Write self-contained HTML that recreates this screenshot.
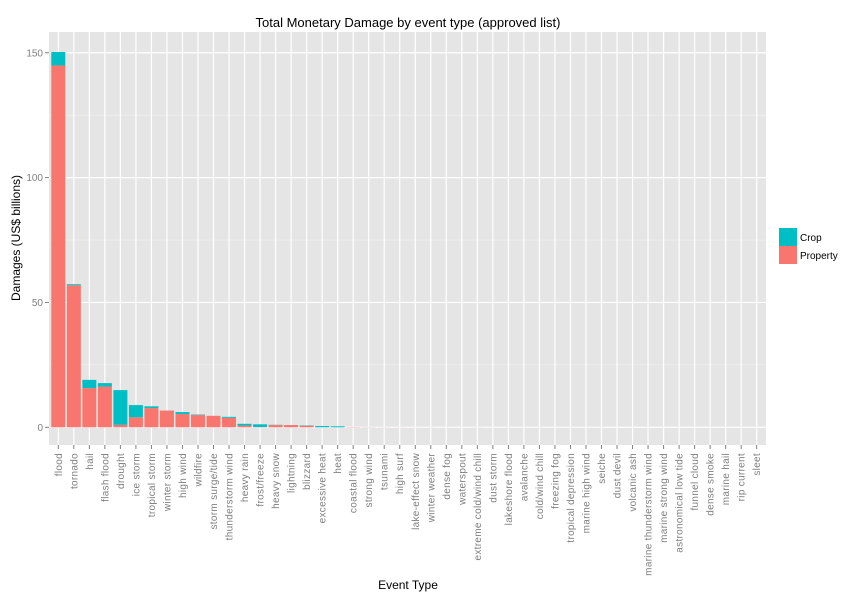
<!DOCTYPE html>
<html><head><meta charset="utf-8"><style>
body{margin:0;background:#fff;font-family:"Liberation Sans",Arial,sans-serif;}
svg text{font-family:"Liberation Sans",Arial,sans-serif;}
</style></head><body>
<svg id="chart" width="867" height="600" xmlns="http://www.w3.org/2000/svg">
<rect x="0" y="0" width="867" height="600" fill="#fff"/>
<text x="408" y="27" font-size="13" text-anchor="middle" fill="#000">Total Monetary Damage by event type (approved list)</text>
<rect x="49" y="32" width="717" height="413" fill="#e5e5e5"/>
<g id="grid"></g>
<g id="bars"></g>
<g id="axes"></g>
<text transform="translate(20,238) rotate(-90)" font-size="12" text-anchor="middle" fill="#000">Damages (US$ billions)</text>
<text x="408" y="589" font-size="12" text-anchor="middle" fill="#000">Event Type</text>
<g>
<rect x="779" y="228" width="18" height="18" fill="#00bfc4"/>
<text x="800" y="241" font-size="10" fill="#000">Crop</text>
<rect x="779" y="246" width="18" height="18" fill="#f8766d"/>
<text x="800" y="259" font-size="10" fill="#000">Property</text>
</g>
</svg>
<script>
const categories=["flood","tornado","hail","flash flood","drought","ice storm","tropical storm","winter storm","high wind","wildfire","storm surge/tide","thunderstorm wind","heavy rain","frost/freeze","heavy snow","lightning","blizzard","excessive heat","heat","coastal flood","strong wind","tsunami","high surf","lake-effect snow","winter weather","dense fog","waterspout","extreme cold/wind chill","dust storm","lakeshore flood","avalanche","cold/wind chill","freezing fog","tropical depression","marine high wind","seiche","dust devil","volcanic ash","marine thunderstorm wind","marine strong wind","astronomical low tide","funnel cloud","dense smoke","marine hail","rip current","sleet"];
const property=[144.9,56.9,15.7,16.3,1.0,4.0,7.7,6.7,5.3,4.9,4.6,3.8,0.7,0.1,0.9,0.9,0.66,0.01,0.0,0.1,0.05,0.04,0.03,0.02,0.02,0.01,0.01,0.01,0.01,0.01,0.01,0.01,0.01,0.01,0.01,0,0,0,0,0,0,0,0,0,0,0];
const crop=[5.4,0.4,3.3,1.4,13.9,4.9,0.7,0.02,0.8,0.2,0.0,0.4,0.7,1.1,0.1,0.01,0.11,0.5,0.4,0,0.02,0,0,0,0.01,0,0,0.02,0,0,0,0.01,0,0,0,0,0,0,0,0,0,0,0,0,0,0];
const yTicks=[0,50,100,150];
const yMinor=[25,75,125];
const NS="http://www.w3.org/2000/svg";
const x0=58.3,step=15.52,bw=14;
function xs(i){return x0+i*step;}
function ys(v){return 427.3-v*2.497;}
function mk(tag,attrs,parent){const e=document.createElementNS(NS,tag);for(const k in attrs)e.setAttribute(k,attrs[k]);parent.appendChild(e);return e;}
const grid=document.getElementById('grid'),bars=document.getElementById('bars'),axes=document.getElementById('axes');
yMinor.forEach(v=>{const l=mk('line',{x1:49,x2:766,y1:ys(v),y2:ys(v),stroke:'#f2f2f2','stroke-width':0.6},grid);

});
yTicks.forEach(v=>{const l=mk('line',{x1:49,x2:766,y1:ys(v),y2:ys(v),stroke:'#fff','stroke-width':1.2},grid);


const t=mk('line',{x1:45,x2:49,y1:ys(v),y2:ys(v),stroke:'#7f7f7f'},axes);


const tx=mk('text',{x:43,y:ys(v)+3.5,'font-size':10,'text-anchor':'end',fill:'#7f7f7f'},axes);tx.textContent=v;

});
categories.forEach((c,i)=>{const x=xs(i);
const g=mk('line',{x1:x,x2:x,y1:32,y2:445,stroke:'#fff','stroke-width':1.2},grid);


const p=property[i],cr=crop[i];
const rp=mk('rect',{x:x-bw/2,y:ys(p),width:bw,height:Math.max(0,ys(0)-ys(p)),fill:'#f8766d'},bars);


const rc=mk('rect',{x:x-bw/2,y:ys(p+cr),width:bw,height:Math.max(0,ys(p)-ys(p+cr)),fill:'#00bfc4'},bars);


const t=mk('line',{x1:x,x2:x,y1:445,y2:449,stroke:'#7f7f7f'},axes);


const tx=mk('text',{transform:`translate(${x+3.5},453) rotate(-90)`,'font-size':10,'text-anchor':'end','letter-spacing':'0.3',fill:'#7f7f7f'},axes);tx.textContent=c;

});
</script>
</body></html>
